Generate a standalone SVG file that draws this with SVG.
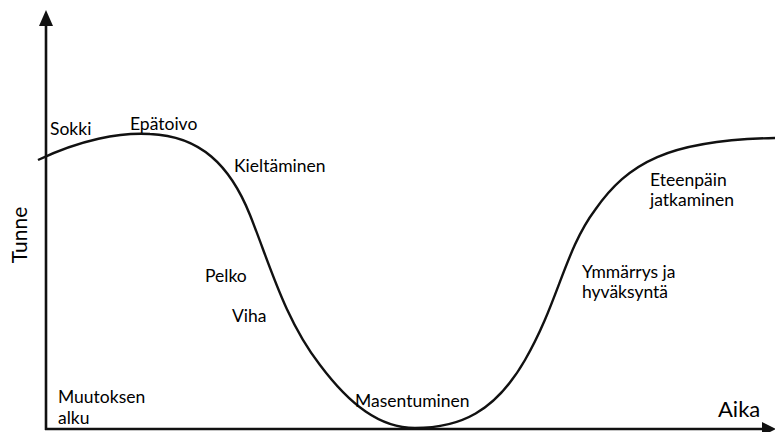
<svg xmlns="http://www.w3.org/2000/svg" width="775" height="432" viewBox="0 0 775 432">
<style>
.lbl{font-family:Lato,"Open Sans",sans-serif;font-size:17.5px;fill:#000}
.ax{stroke:#111;stroke-width:2.6;fill:none}
.crv{stroke:#111;stroke-width:2.4;fill:none}
</style>
<rect width="775" height="432" fill="#fff"/>
<g id="axes">
<line class="ax" x1="46" y1="430" x2="46" y2="22"/>
<polygon points="46,10 39,26 53,26" fill="#111"/>
<line class="ax" x1="45" y1="429" x2="766" y2="429"/>
<polygon points="776,429 762,422 762,436" fill="#111"/>
</g>
<g id="connectors">
<path class="crv" d="M38,160 C80,140 120,132 150,134 C200,136 230,165 250,215 C270,265 285,320 320,365 C350,405 380,428 415,428 C460,428 495,412 525,360 C558,303 565,250 595,210 C628,163 668,140 775,138"/>
</g>
<g id="n-tunne"><text class="lbl" style="font-size:21px" transform="translate(27,235) rotate(-90)" text-anchor="middle">Tunne</text></g>
<g id="n-aika"><text class="lbl" style="font-size:22px" x="718" y="417">Aika</text></g>
<g id="n-sokki"><text class="lbl" x="50" y="135">Sokki</text></g>
<g id="n-epatoivo"><text class="lbl" x="130" y="130">Epätoivo</text></g>
<g id="n-kieltaminen"><text class="lbl" x="234" y="172">Kieltäminen</text></g>
<g id="n-pelko"><text class="lbl" x="205" y="282">Pelko</text></g>
<g id="n-viha"><text class="lbl" x="232" y="322">Viha</text></g>
<g id="n-muutoksen"><text class="lbl" x="58" y="403">Muutoksen</text><text class="lbl" x="58" y="424">alku</text></g>
<g id="n-masentuminen"><text class="lbl" x="355" y="407">Masentuminen</text></g>
<g id="n-ymmarrys"><text class="lbl" x="582" y="278">Ymmärrys ja</text><text class="lbl" x="582" y="298">hyväksyntä</text></g>
<g id="n-eteenpain"><text class="lbl" x="650" y="186">Eteenpäin</text><text class="lbl" x="650" y="206">jatkaminen</text></g>
</svg>
